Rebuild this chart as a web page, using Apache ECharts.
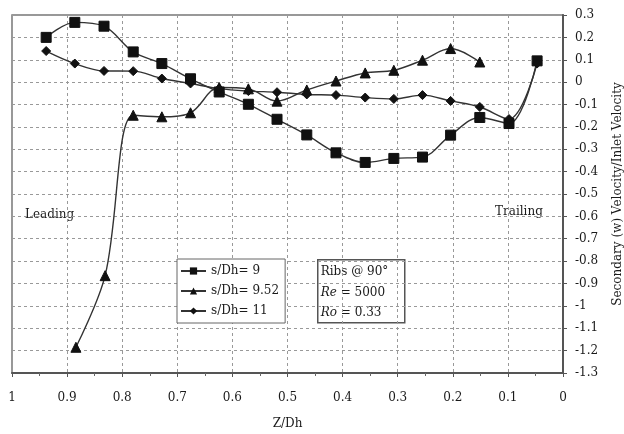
<!DOCTYPE html>
<html>
<head>
<meta charset="utf-8">
<script src="https://cdn.jsdelivr.net/npm/echarts@6/dist/echarts.min.js"></script>
<style>
  html, body { margin: 0; padding: 0; background: #fff; }
  #chart { width: 624px; height: 434px; }
</style>
</head>
<body>
<div id="chart"></div>
<script>
// Measurement stations along the duct (Z/Dh)
const zFull = [0.938, 0.886, 0.833, 0.780, 0.728, 0.676, 0.624, 0.571, 0.519,
               0.465, 0.412, 0.359, 0.307, 0.255, 0.204, 0.151, 0.098, 0.047];
const zShort = [0.884, 0.831, 0.780, 0.728, 0.676, 0.624, 0.571, 0.519,
                0.465, 0.412, 0.359, 0.307, 0.255, 0.204, 0.151];

// Secondary (w) velocity / inlet velocity
const vel9 = [0.20, 0.267, 0.25, 0.135, 0.083, 0.015, -0.044, -0.099, -0.166,
              -0.236, -0.316, -0.359, -0.341, -0.335, -0.237, -0.158, -0.185, 0.095];
const vel952 = [-1.185, -0.865, -0.148, -0.155, -0.137, -0.024, -0.030, -0.085,
                -0.035, 0.005, 0.041, 0.053, 0.098, 0.150, 0.090];
const vel11 = [0.139, 0.083, 0.050, 0.049, 0.016, -0.006, -0.029, -0.040, -0.045,
               -0.055, -0.058, -0.069, -0.075, -0.058, -0.084, -0.111, -0.165, 0.083];

const seriesNames = ['s/Dh= 9', 's/Dh= 9.52', 's/Dh= 11'];
const xTicks = { min: 0, max: 1, step: 0.1 };
const yTicks = { min: -1.3, max: 0.3, step: 0.1 };

const pair = (xs, ys) => xs.map((x, i) => [x, ys[i]]);
const serif = '"DejaVu Serif", "Liberation Serif", serif';
const textColor = '#1a1a1a';
const lineColor = '#333';
const markColor = '#111';

function lineSeries(name, data, symbol, size) {
  return {
    name, type: 'line', data, symbol, symbolSize: size, smooth: 0.35,
    lineStyle: { color: lineColor, width: 1.4 },
    itemStyle: { color: markColor, borderColor: markColor },
    emphasis: { disabled: true }
  };
}

const chart = echarts.init(document.getElementById('chart'));
chart.setOption({
  animation: false,
  backgroundColor: '#fff',
  grid: {
    left: 12, right: 61, top: 15, bottom: 61,
    outerBoundsMode: 'none',
    containLabel: false,
    show: true, borderColor: '#777', borderWidth: 1.5
  },
  xAxis: {
    type: 'value', inverse: true,
    min: xTicks.min, max: xTicks.max, interval: xTicks.step,
    name: 'Z/Dh', nameLocation: 'middle', nameGap: 45,
    nameTextStyle: { fontFamily: serif, fontSize: 12, color: textColor },
    axisLine: { show: true, onZero: false, lineStyle: { color: '#555', width: 2 } },
    axisTick: { show: true, length: 4, lineStyle: { color: '#555' } },
    minorTick: { show: true, splitNumber: 2, length: 3, lineStyle: { color: '#666' } },
    axisLabel: { fontFamily: serif, fontSize: 12, color: textColor, margin: 19 },
    splitLine: { show: true, lineStyle: { color: '#999', type: [3, 3], width: 1 } }
  },
  yAxis: {
    type: 'value', position: 'right',
    min: yTicks.min, max: yTicks.max, interval: yTicks.step,
    name: 'Secondary (w) Velocity/Inlet Velocity',
    nameLocation: 'middle', nameRotate: 90, nameGap: 49,
    nameTextStyle: { fontFamily: serif, fontSize: 12, color: textColor },
    axisLine: { show: true, onZero: false, lineStyle: { color: '#555', width: 2 } },
    axisTick: { show: true, length: 4, lineStyle: { color: '#555' } },
    axisLabel: {
      fontFamily: serif, fontSize: 12, color: textColor, margin: 12,
      formatter: v => String(Math.round(v * 10) / 10)
    },
    splitLine: { show: true, lineStyle: { color: '#999', type: [3, 3], width: 1 } }
  },
  legend: {
    data: seriesNames,
    orient: 'vertical',
    left: 177, top: 259,
    itemWidth: 25, itemHeight: 9, itemGap: 8,
    padding: [6, 6, 6, 3],
    borderColor: '#666', borderWidth: 1,
    backgroundColor: '#fff',
    textStyle: { fontFamily: serif, fontSize: 12, color: textColor },
    selectedMode: false
  },
  graphic: [
    {
      type: 'text', left: 25, top: 209,
      style: { text: 'Leading', font: '12px ' + serif, fill: textColor }
    },
    {
      type: 'text', left: 495, top: 206,
      style: { text: 'Trailing', font: '12px ' + serif, fill: textColor }
    },
    {
      type: 'group', left: 317, top: 259,
      children: [
        {
          type: 'rect', shape: { x: 0, y: 0, width: 87, height: 63 },
          style: { fill: '#fff', stroke: '#555', lineWidth: 1.5 }
        },
        {
          type: 'text', x: 3, y: 2,
          style: {
            text: '{n|Ribs @ 90°}\n{i|Re}{n| = 5000}\n{i|Ro}{n| = 0.33}',
            lineHeight: 20.5,
            rich: {
              n: { font: '12px ' + serif, fill: textColor, lineHeight: 20.5 },
              i: { font: 'italic 12px ' + serif, fill: textColor, lineHeight: 20.5 }
            }
          }
        }
      ]
    }
  ],
  series: [
    lineSeries(seriesNames[0], pair(zFull, vel9), 'rect', 10),
    lineSeries(seriesNames[1], pair(zShort, vel952), 'triangle', 10),
    lineSeries(seriesNames[2], pair(zFull, vel11), 'diamond', 9)
  ]
});
</script>
</body>
</html>
